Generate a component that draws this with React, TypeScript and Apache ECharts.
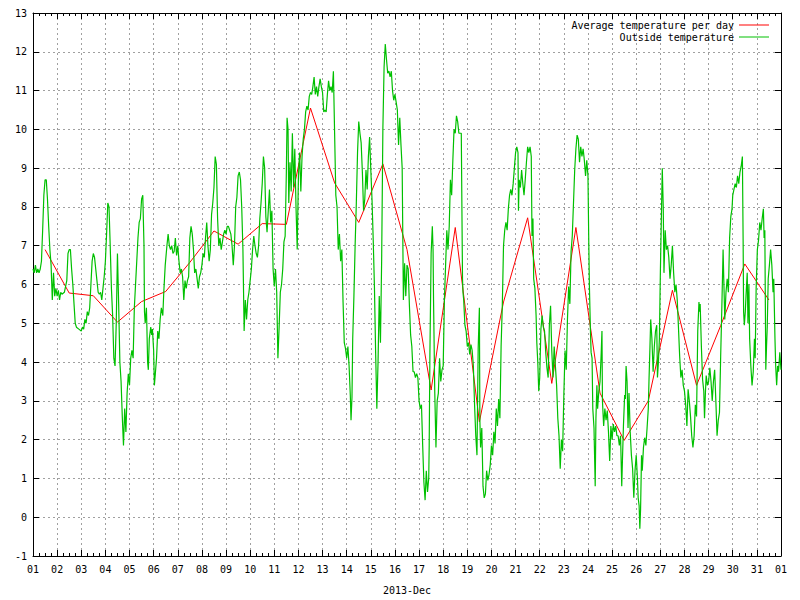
import React, { useEffect, useRef } from "react";
import * as echarts from "echarts";

// Day labels along the x axis (day boundaries 0..31)
const dayLabels: string[] = [
  "01","02","03","04","05","06","07","08","09","10","11","12","13","14","15","16",
  "17","18","19","20","21","22","23","24","25","26","27","28","29","30","31","01",
];

// Average temperature per day (Dec 1 .. Dec 31), plotted at noon of each day
const avgTemps: number[] = [
  6.9, 5.78, 5.71, 5.03, 5.56, 5.82, 6.57, 7.38, 7.04, 7.57, 7.55, 10.55, 8.62, 7.6, 9.11, 6.9,
  3.28, 7.47, 2.46, 5.55, 7.72, 3.45, 7.47, 3.2, 1.98, 3.0, 5.85, 3.4, 4.94, 6.53, 5.6,
];

// Outside temperature samples: time in days since Dec 1 00:00
const outsideTimes: number[] = [
  0.0,0.05,0.1,0.15,0.2,0.25,0.3,0.35,0.4,0.45,0.5,0.55,0.6,0.65,0.7,0.75,0.8,0.85,0.9,0.95,
  1.0,1.05,1.1,1.15,1.2,1.3,1.4,1.45,1.5,1.55,1.6,1.65,1.7,1.75,1.8,1.9,
  2.0,2.05,2.1,2.15,2.2,2.25,2.3,2.35,2.4,2.45,2.5,2.55,2.6,2.65,2.7,2.75,2.8,2.85,2.9,2.95,
  3.0,3.05,3.1,3.15,3.2,3.25,3.3,3.35,3.4,3.45,3.5,3.55,3.6,3.65,3.7,3.75,3.8,3.85,3.9,3.95,
  4.0,4.05,4.1,4.15,4.2,4.25,4.3,4.35,4.4,4.45,4.5,4.55,4.6,4.62,4.65,4.7,4.72,4.75,4.78,4.82,4.88,4.92,4.95,
  5.0,5.03,5.07,5.12,5.17,5.22,5.27,5.32,5.38,5.42,5.48,5.55,5.6,5.65,5.7,5.75,5.8,5.85,5.9,5.95,
  6.0,6.05,6.1,6.15,6.2,6.25,6.3,6.35,6.4,6.45,6.5,6.55,6.6,6.65,6.7,6.75,6.8,6.85,6.9,6.95,
  7.0,7.05,7.1,7.15,7.2,7.25,7.3,7.35,7.4,7.45,7.5,7.55,7.6,7.65,7.7,7.75,7.8,7.85,7.9,7.95,
  8.0,8.05,8.1,8.15,8.2,8.25,8.3,8.35,8.4,8.45,8.5,8.55,8.6,8.65,8.7,8.75,8.8,8.85,8.9,8.95,
  9.0,9.05,9.1,9.15,9.2,9.25,9.3,9.35,9.4,9.45,9.5,9.55,9.6,9.65,9.7,9.75,9.8,9.85,9.9,9.95,
  10.0,10.05,10.1,10.15,10.2,10.25,10.3,10.35,10.4,10.45,10.5,10.53,10.57,10.6,10.65,10.7,10.75,10.8,10.85,10.9,10.95,
  11.0,11.05,11.1,11.15,11.2,11.25,11.3,11.35,11.4,11.45,11.5,11.55,11.6,11.65,11.7,11.75,11.8,11.85,11.9,11.95,
  12.0,12.05,12.1,12.15,12.2,12.25,12.3,12.35,12.4,12.45,12.5,12.55,12.6,12.65,12.7,12.75,12.8,12.85,12.9,12.95,
  13.0,13.05,13.1,13.15,13.18,13.22,13.25,13.3,13.35,13.4,13.45,13.5,13.55,13.6,13.65,13.7,13.75,13.8,13.85,13.9,13.95,
  14.0,14.05,14.1,14.15,14.2,14.25,14.3,14.35,14.4,14.45,14.5,14.55,14.6,14.65,14.7,14.75,14.8,14.85,14.9,14.95,
  15.0,15.05,15.1,15.15,15.2,15.25,15.3,15.35,15.4,15.45,15.5,15.55,15.6,15.65,15.7,15.75,15.8,15.85,15.9,15.95,
  16.0,16.05,16.1,16.15,16.2,16.25,16.3,16.35,16.4,16.42,16.45,16.5,16.55,16.58,16.6,16.65,16.7,16.75,16.8,16.85,16.9,16.95,
  17.0,17.05,17.1,17.15,17.2,17.25,17.3,17.35,17.4,17.45,17.5,17.55,17.6,17.65,17.7,17.75,17.8,17.82,17.85,17.9,17.95,
  18.0,18.05,18.1,18.15,18.2,18.25,18.3,18.35,18.4,18.45,18.5,18.52,18.55,18.6,18.65,18.7,18.75,18.8,18.85,18.9,18.95,
  19.0,19.05,19.1,19.15,19.2,19.25,19.3,19.35,19.4,19.45,19.5,19.55,19.6,19.65,19.7,19.75,19.8,19.85,19.9,19.95,
  20.0,20.05,20.1,20.12,20.15,20.2,20.25,20.3,20.35,20.4,20.45,20.5,20.55,20.6,20.65,20.68,20.72,20.75,20.8,20.85,20.88,20.92,20.96,
  21.0,21.05,21.1,21.15,21.2,21.25,21.3,21.35,21.4,21.45,21.5,21.55,21.6,21.65,21.7,21.75,21.8,21.85,21.9,21.95,
  22.0,22.05,22.1,22.15,22.2,22.25,22.3,22.35,22.4,22.45,22.5,22.55,22.6,22.65,22.7,22.75,22.8,22.85,22.9,22.95,
  23.0,23.03,23.06,23.1,23.13,23.17,23.2,23.25,23.3,23.33,23.37,23.4,23.45,23.5,23.55,23.58,23.6,23.65,23.7,23.75,23.8,23.85,23.9,23.95,
  24.0,24.05,24.1,24.15,24.2,24.25,24.3,24.35,24.4,24.43,24.47,24.52,24.55,24.58,24.62,24.66,24.7,24.75,24.8,24.85,24.9,24.95,
  25.0,25.05,25.08,25.12,25.15,25.18,25.22,25.25,25.3,25.35,25.4,25.45,25.5,25.53,25.57,25.6,25.65,25.7,25.75,25.8,25.85,25.88,25.92,25.96,
  26.0,26.05,26.08,26.12,26.15,26.2,26.25,26.3,26.35,26.4,26.45,26.5,26.55,26.6,26.65,26.7,26.75,26.8,26.85,26.9,26.95,
  27.0,27.05,27.1,27.15,27.2,27.25,27.3,27.35,27.4,27.45,27.5,27.55,27.6,27.62,27.65,27.7,27.75,27.8,27.83,27.87,27.9,27.95,
  28.0,28.05,28.1,28.15,28.2,28.25,28.3,28.35,28.4,28.45,28.5,28.55,28.6,28.63,28.67,28.72,28.77,28.82,28.87,28.92,28.97,
  29.0,29.05,29.1,29.15,29.2,29.25,29.3,29.35,29.4,29.43,29.45,29.48,29.52,29.55,29.6,29.63,29.67,29.7,29.75,29.8,29.85,29.9,29.93,29.97,
  30.02,30.07,30.12,30.17,30.22,30.27,30.3,30.33,30.37,30.4,30.43,30.47,30.52,30.57,30.62,30.67,30.7,30.75,30.78,30.82,30.86,30.9,30.95,31.0,
];

const outsideTemps: number[] = [
  6.4,6.3,6.5,6.3,6.4,6.3,6.4,6.6,7.4,8.3,8.7,8.7,8.2,7.5,6.9,6.5,5.6,6.3,5.7,5.9,
  5.7,5.85,5.6,5.8,5.75,5.8,6.1,6.8,6.9,6.9,6.4,6.0,5.5,5.0,4.9,4.85,
  4.8,4.9,4.85,5.1,5.0,5.3,5.2,5.4,6.0,6.6,6.8,6.7,6.4,6.1,5.8,5.75,5.8,5.6,5.9,6.2,
  6.6,7.3,8.1,8.0,7.0,5.9,5.2,4.1,3.9,5.0,6.8,5.5,4.0,3.5,2.6,1.85,2.8,2.2,3.2,3.7,
  3.4,4.1,4.3,4.1,5.4,6.0,6.6,7.2,7.6,7.7,8.2,8.3,7.0,5.3,5.0,5.4,4.9,4.0,3.8,4.6,4.9,4.7,4.85,
  4.3,3.4,3.7,4.1,4.8,4.6,5.1,5.4,5.2,5.8,6.5,7.0,7.3,7.0,6.9,7.0,6.8,6.85,7.2,6.75,
  7.0,6.6,6.3,6.4,6.2,5.6,6.1,5.9,6.1,6.2,7.2,7.5,7.3,6.9,6.3,6.4,6.15,5.9,6.2,6.3,
  6.5,6.8,6.7,7.2,7.6,7.0,6.6,6.9,7.8,8.1,8.5,9.3,9.1,7.7,7.0,7.2,6.9,7.1,7.3,7.4,
  7.3,7.5,7.5,7.4,7.3,7.0,6.5,7.0,8.0,8.25,8.8,8.9,8.7,8.0,6.9,4.8,5.6,5.1,5.6,5.8,
  6.1,6.4,6.9,7.25,7.0,6.8,6.7,7.0,7.7,8.1,8.6,9.3,9.0,7.75,7.35,7.9,8.45,7.6,7.9,6.4,
  5.95,6.4,5.8,4.1,4.9,5.8,6.0,6.4,7.1,7.25,8.9,10.3,10.0,8.1,9.15,8.4,9.9,8.5,9.5,8.0,6.9,
  8.8,9.4,8.4,9.3,9.75,10.0,10.45,10.6,10.5,10.85,10.95,10.9,11.1,11.35,10.9,11.1,10.85,11.1,11.3,11.1,
  10.95,10.45,10.5,10.45,10.9,11.25,11.0,11.1,10.95,11.5,9.9,8.3,8.0,6.9,7.3,6.6,6.9,5.55,4.5,4.35,
  4.1,4.4,3.9,3.15,2.5,3.1,4.6,5.7,7.0,8.1,9.4,10.2,9.9,9.65,8.9,7.9,8.2,8.95,8.45,9.3,9.8,
  8.95,8.2,7.15,5.95,4.25,2.8,4.0,5.7,4.5,6.65,10.0,11.6,12.2,11.8,11.45,11.5,11.35,11.5,11.0,10.75,
  10.9,10.7,10.5,9.6,10.3,9.6,9.0,5.6,6.55,5.7,6.5,6.4,5.45,4.7,4.4,3.75,3.75,3.6,3.7,3.6,
  3.0,2.8,2.9,1.85,0.9,0.44,1.2,0.65,1.0,1.85,4.25,6.8,7.5,6.9,5.6,3.25,1.8,3.0,3.2,4.1,3.5,3.8,
  3.9,5.6,6.5,7.4,6.9,7.5,8.7,8.3,9.2,10.0,9.9,10.35,10.2,9.9,9.9,9.9,6.15,5.8,5.6,4.95,4.8,
  4.4,4.5,4.2,4.45,4.3,3.9,2.9,2.1,1.6,4.35,5.4,2.5,1.8,2.3,0.8,0.5,0.6,1.2,0.95,1.1,1.35,
  1.85,1.6,2.2,1.9,2.8,2.35,3.05,2.55,4.4,5.45,7.0,7.4,7.6,7.4,7.95,8.3,8.45,8.3,8.6,9.0,
  9.4,9.55,9.4,7.9,8.7,8.5,8.95,8.6,8.3,8.7,9.15,9.55,9.4,9.55,9.3,7.25,7.7,6.15,5.9,5.2,4.5,4.0,3.25,
  3.6,4.85,5.2,4.9,4.8,4.25,3.85,3.6,4.95,5.45,4.3,3.6,4.4,3.9,3.4,2.55,2.1,1.25,2.0,1.7,
  3.15,4.3,3.8,5.1,5.95,5.5,6.85,7.25,8.1,8.95,9.5,9.85,9.75,9.15,9.55,9.3,9.5,9.2,8.8,9.2,
  8.8,7.25,5.95,4.85,4.25,4.1,2.8,2.3,0.8,2.55,3.4,2.8,3.25,3.5,4.25,4.8,3.0,2.35,2.8,2.5,2.75,2.2,1.45,2.35,
  2.0,2.4,2.2,2.35,2.1,2.1,1.85,2.1,0.8,1.5,2.35,3.15,3.05,3.9,3.5,2.3,3.2,2.2,1.6,1.25,0.5,1.2,
  1.6,1.0,0.5,0.3,-0.3,0.2,1.6,1.2,1.8,2.05,1.85,2.3,2.8,3.55,4.4,5.1,4.6,3.75,4.4,4.8,4.95,3.6,4.0,4.6,
  6.3,8.0,9.0,8.0,6.3,7.4,6.9,7.0,6.7,6.15,6.5,7.0,6.3,5.8,6.0,5.6,4.9,4.15,3.6,3.8,3.4,
  3.25,2.9,2.35,3.3,3.0,2.6,2.1,1.8,2.1,2.9,2.6,4.8,5.55,5.3,5.5,4.4,3.55,3.25,2.55,3.25,3.65,3.4,
  3.5,3.85,3.5,3.0,3.5,3.8,3.0,2.1,2.5,2.7,4.15,5.45,6.9,6.1,5.1,5.8,6.15,5.8,7.2,7.75,7.95,
  8.3,8.45,8.6,8.5,8.8,8.6,8.9,9.05,9.3,7.15,5.3,4.95,5.3,5.7,6.3,5.0,6.0,4.6,3.9,3.4,3.75,4.6,4.1,5.9,
  6.9,7.15,7.6,7.4,7.7,7.95,7.2,7.4,3.8,4.4,4.9,6.15,6.5,6.9,6.5,5.8,6.15,4.6,3.9,3.4,3.9,3.75,4.25,3.8,
];

const FONT = "'DejaVu Sans Mono', 'Liberation Mono', monospace";

export default function App() {
  const ref = useRef<HTMLDivElement>(null);

  useEffect(() => {
    if (!ref.current) return;
    const chart = echarts.init(ref.current, null, { renderer: "svg" });

    const avgData = avgTemps.map((v, i) => [i + 0.5, v]);
    const n = Math.min(outsideTimes.length, outsideTemps.length);
    const outData: number[][] = [];
    for (let i = 0; i < n; i++) outData.push([outsideTimes[i], outsideTemps[i]]);

    const gridLine = { show: true, lineStyle: { color: "#a0a0a0", width: 1, type: [2, 3] as any } };
    const axisLine = { show: true, onZero: false, lineStyle: { color: "#000", width: 1 } };
    const labelStyle = { color: "#000", fontFamily: FONT, fontSize: 10 };

    const xBase = {
      type: "value" as const,
      min: 0,
      max: 31,
      interval: 1,
      axisLine,
      axisTick: { show: true, inside: true, length: 6, lineStyle: { color: "#000" } },
      minorTick: { show: true, splitNumber: 4, length: 3, lineStyle: { color: "#000" } },
    };
    const yBase = {
      type: "value" as const,
      min: -1,
      max: 13,
      interval: 1,
      axisLine,
      axisTick: { show: true, inside: true, length: 6, lineStyle: { color: "#000" } },
    };

    chart.setOption({
      animation: false,
      backgroundColor: "#ffffff",
      grid: { left: 33, right: 19, top: 13, bottom: 42, containLabel: false },
      legend: {
        orient: "vertical",
        right: 31,
        top: 19,
        padding: 0,
        align: "right",
        itemWidth: 30,
        itemHeight: 1,
        itemGap: 0,
        icon: "rect",
        textStyle: { ...labelStyle, lineHeight: 12 },
        data: ["Average temperature per day", "Outside temperature"],
      },
      xAxis: [
        {
          ...xBase,
          position: "bottom",
          name: "2013-Dec",
          nameLocation: "middle",
          nameGap: 29,
          nameTextStyle: labelStyle,
          axisLabel: {
            ...labelStyle,
            margin: 8,
            formatter: (v: number) => dayLabels[Math.round(v)] ?? "",
          },
          splitLine: gridLine,
        },
        {
          ...xBase,
          position: "top",
          axisLabel: { show: false },
          splitLine: { show: false },
        },
      ],
      yAxis: [
        {
          ...yBase,
          position: "left",
          axisLabel: { ...labelStyle, margin: 6 },
          splitLine: gridLine,
        },
        {
          ...yBase,
          position: "right",
          axisLabel: { show: false },
          splitLine: { show: false },
        },
      ],
      series: [
        {
          name: "Average temperature per day",
          type: "line",
          xAxisIndex: 0,
          yAxisIndex: 0,
          data: avgData,
          showSymbol: false,
          color: "#ff0000",
          lineStyle: { color: "#ff0000", width: 1 },
          z: 2,
        },
        {
          name: "Outside temperature",
          type: "line",
          xAxisIndex: 0,
          yAxisIndex: 0,
          data: outData,
          showSymbol: false,
          color: "#00c000",
          lineStyle: { color: "#00c000", width: 1.2 },
          z: 3,
        },
      ],
    });

    return () => chart.dispose();
  }, []);

  return (
    <div
      ref={ref}
      style={{ position: "fixed", left: 0, top: 0, width: 800, height: 600, background: "#fff" }}
    />
  );
}
